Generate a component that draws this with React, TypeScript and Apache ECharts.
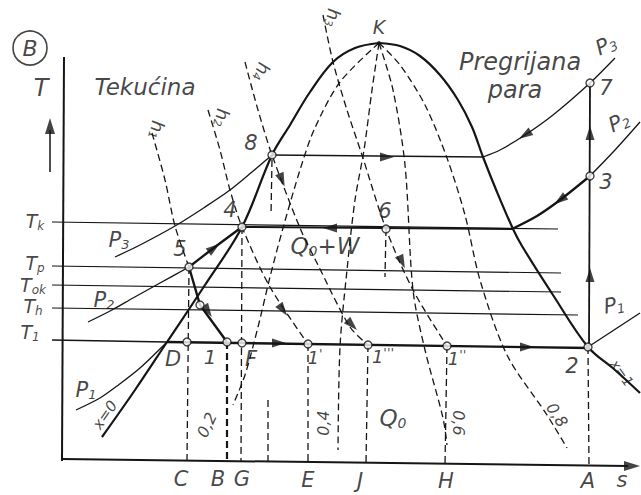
import React, { useEffect, useRef } from "react";
import * as echarts from "echarts";

type P = [number, number];

const axisT: P[] = [[64, 57], [62, 461]];
const axisS: P[] = [[62, 459], [628, 466]];
const tArrowLine: P[] = [[50, 172], [50, 130]];

const isoTk: P[] = [[52, 222], [558, 229]];
const isoTp: P[] = [[52, 266], [561, 273]];
const isoTok: P[] = [[52, 285], [561, 292]];
const isoTh: P[] = [[52, 308], [578, 315]];
const isoT1: P[] = [[52, 340], [167, 342]];
const evapT1: P[] = [[167, 342], [590, 348]];
const condTk: P[] = [[242, 227], [512, 229]];
const evap8: P[] = [[272, 155], [483, 157]];

const satLiquid: P[] = [[102, 437], [135, 390], [167, 342], [205, 285], [242, 227], [272, 155], [290, 125], [310, 92], [333, 62], [355, 48], [379, 43]];
const satVapour: P[] = [[379, 43], [400, 46], [420, 56], [440, 75], [458, 100], [472, 127], [483, 157], [497, 192], [513, 229], [522, 246], [553, 295], [588, 347], [615, 370], [640, 393]];

const p3Liquid: P[] = [[115, 257], [140, 245], [175, 226], [205, 207], [230, 190], [252, 172], [272, 155]];
const p3Super: P[] = [[483, 157], [500, 150], [525, 135], [553, 115], [590, 83], [615, 58]];
const p2Liquid: P[] = [[88, 322], [112, 310], [133, 298], [160, 283], [189, 267]];
const p2Rise: P[] = [[189, 267], [215, 247], [242, 227]];
const p2Super: P[] = [[512, 229], [537, 216], [560, 200], [590, 176]];
const p2SuperEnd: P[] = [[590, 176], [615, 150], [640, 122]];
const p1Liquid: P[] = [[76, 410], [100, 398], [117, 386], [140, 368], [167, 342]];
const p1Super: P[] = [[588, 347], [640, 313]];
const rise2to7: P[] = [[589, 347], [590, 83]];
const throttle51: P[] = [[189, 267], [200, 305], [227, 342]];

const h1: P[] = [[152, 133], [165, 180], [175, 226], [189, 267]];
const h2: P[] = [[208, 110], [220, 150], [230, 190], [242, 227], [270, 287], [308, 344]];
const h3: P[] = [[323, 15], [333, 62], [347, 110], [362, 155], [386, 229], [413, 290], [447, 346]];
const h4: P[] = [[245, 62], [258, 110], [272, 155], [300, 228], [317, 263], [350, 327], [368, 345]];
const x02: P[] = [[379, 43], [340, 82], [314, 130], [300, 170], [283, 228], [270, 277], [258, 327], [245, 375], [233, 405]];
const x04: P[] = [[379, 43], [372, 90], [364, 150], [355, 200], [347, 270], [340, 347], [338, 450]];
const x06: P[] = [[379, 43], [393, 90], [405, 165], [413, 290], [425, 350], [443, 418], [447, 445]];
const x08: P[] = [[379, 43], [400, 65], [425, 105], [447, 158], [465, 215], [480, 280], [507, 355], [547, 415], [567, 448]];

const drops: P[][] = [
  [[189, 267], [187, 460]],
  [[242, 227], [241, 461]],
  [[272, 160], [271, 215]],
  [[268, 400], [268, 462]],
  [[308, 344], [308, 462]],
  [[368, 345], [366, 464]],
  [[447, 346], [445, 465]],
  [[588, 347], [589, 466]],
  [[386, 229], [385, 277]],
];
const dropB: P[] = [[227, 342], [227, 461]];

const statePoints: P[] = [[272, 155], [242, 227], [189, 267], [386, 229], [590, 83], [590, 176], [588, 347], [187, 342], [227, 342], [242, 343], [308, 344], [368, 345], [447, 346], [200, 305]];

// [s, T, direction ds, direction dT]
const arrows: [number, number, number, number][] = [
  [214, 248, 27, -20],
  [208, 311, 19, 30],
  [330, 228, -1, 0],
  [387, 157, 1, 0],
  [525, 135, -35, 22],
  [560, 200, -30, 22],
  [590, 275, 0, -1],
  [590, 133, 0, -1],
  [279, 343, 1, 0],
  [527, 347, 1, 0],
  [282, 180, 10, 25],
  [352, 325, 18, 18],
  [283, 310, 25, 35],
  [402, 262, 15, 33],
];

// [text, s, T, rotation (deg), font size]
const labels: [string, number, number, number, number][] = [
  ["T", 41, 88, 0, 24],
  ["Tekućina", 145, 87, 0, 23],
  ["K", 379, 27, 0, 19],
  ["Pregrijana", 520, 62, 0, 24],
  ["para", 515, 90, 0, 24],
  ["P{s|3}", 606, 45, 25, 21],
  ["7", 606, 88, 0, 21],
  ["P{s|2}", 619, 122, 25, 21],
  ["3", 606, 182, 0, 21],
  ["P{s|1}", 614, 305, 10, 21],
  ["x=1", 622, 373, -55, 14],
  ["2", 572, 366, 0, 21],
  ["8", 251, 143, 0, 21],
  ["4", 230, 210, 0, 21],
  ["5", 180, 249, 0, 21],
  ["6", 385, 211, 0, 21],
  ["Q{s|0}+W", 325, 246, 0, 23],
  ["1", 210, 357, 0, 20],
  ["D", 173, 359, 0, 21],
  ["F", 251, 359, 0, 21],
  ["1{p|'}", 315, 357, 0, 18],
  ["1{p|'''}", 383, 356, 0, 18],
  ["1{p|''}", 457, 358, 0, 18],
  ["Q{s|0}", 393, 418, 0, 23],
  ["0,2", 207, 425, 65, 16],
  ["0,4", 323, 423, 90, 16],
  ["0,6", 458, 423, -90, 16],
  ["0,8", 557, 415, -58, 16],
  ["h{s|1}", 157, 130, -100, 18],
  ["h{s|2}", 222, 118, -100, 18],
  ["h{s|3}", 333, 18, -100, 18],
  ["h{s|4}", 262, 72, -110, 18],
  ["P{s|3}", 119, 240, 0, 21],
  ["P{s|2}", 104, 300, 0, 21],
  ["P{s|1}", 86, 390, 0, 21],
  ["x=0", 105, 415, 55, 15],
  ["T{s|k}", 35, 221, 0, 19],
  ["T{s|p}", 35, 263, 0, 19],
  ["T{s|ok}", 33, 285, 0, 19],
  ["T{s|h}", 33, 306, 0, 19],
  ["T{s|1}", 30, 332, 0, 19],
  ["C", 181, 479, 0, 21],
  ["B", 218, 479, 0, 21],
  ["G", 242, 479, 0, 21],
  ["E", 308, 480, 0, 21],
  ["J", 360, 481, 0, 21],
  ["H", 446, 481, 0, 21],
  ["A", 588, 481, 0, 21],
  ["s", 622, 480, 0, 21],
];

const badge: P = [30, 48];

const INK = "#151515";
const FONT = "'DejaVu Sans', 'Liberation Sans', sans-serif";

function line(data: P[], width: number, dashed = false, smooth: number | boolean = false): any {
  return {
    type: "line",
    data,
    showSymbol: false,
    symbol: "none",
    smooth,
    silent: true,
    z: dashed ? 2 : 3,
    lineStyle: { color: INK, width, type: dashed ? [7, 4] : "solid" },
  };
}

export default function App() {
  const ref = useRef<HTMLDivElement>(null);
  useEffect(() => {
    if (!ref.current) return;
    const chart = echarts.init(ref.current, undefined, { renderer: "svg" });
    const series: any[] = [
      line(axisT, 2),
      line(axisS, 2),
      line(tArrowLine, 1.5),
      line(isoTk, 1.2),
      line(isoTp, 1.2),
      line(isoTok, 1.2),
      line(isoTh, 1.2),
      line(isoT1, 1.3),
      line(evapT1, 2.4),
      line(condTk, 2.0),
      line(evap8, 1.3),
      line(satLiquid, 2.2, false, 0.35),
      line(satVapour, 2.2, false, 0.35),
      line(p3Liquid, 1.3, false, 0.3),
      line(p3Super, 1.3, false, 0.3),
      line(p2Liquid, 1.3, false, 0.3),
      line(p2Rise, 2.3, false, 0.3),
      line(p2Super, 2.3, false, 0.3),
      line(p2SuperEnd, 1.3, false, 0.3),
      line(p1Liquid, 1.3, false, 0.3),
      line(p1Super, 1.3),
      line(rise2to7, 1.8),
      line(throttle51, 2.4),
      line(h1, 1.3, true, 0.3),
      line(h2, 1.3, true, 0.3),
      line(h3, 1.3, true, 0.3),
      line(h4, 1.3, true, 0.3),
      line(x02, 1.3, true, 0.3),
      line(x04, 1.3, true, 0.3),
      line(x06, 1.3, true, 0.3),
      line(x08, 1.3, true, 0.3),
      ...drops.map((d) => line(d, 1.3, true)),
      line(dropB, 2.2, true),
      {
        type: "scatter",
        silent: true,
        z: 6,
        symbol: "triangle",
        symbolSize: [9, 14],
        itemStyle: { color: INK },
        data: arrows.map(([s, t, ds, dt]) => ({
          value: [s, t],
          symbolRotate: (-Math.atan2(ds, -dt) * 180) / Math.PI,
        })),
      },
      {
        type: "scatter",
        silent: true,
        z: 6,
        symbol: "triangle",
        symbolSize: [10, 16],
        itemStyle: { color: INK },
        data: [
          { value: [50, 126], symbolRotate: 0 },
          { value: [632, 466], symbolRotate: -90 },
        ],
      },
      {
        type: "scatter",
        silent: true,
        z: 7,
        symbol: "circle",
        symbolSize: 8,
        itemStyle: { color: "#fff", borderColor: INK, borderWidth: 1.4 },
        data: statePoints,
      },
      {
        type: "scatter",
        silent: true,
        z: 7,
        symbol: "circle",
        symbolSize: 4,
        itemStyle: { color: INK },
        data: [[379, 43]],
      },
      {
        type: "scatter",
        silent: true,
        z: 7,
        symbol: "circle",
        symbolSize: 34,
        itemStyle: { color: "rgba(0,0,0,0)", borderColor: INK, borderWidth: 1.6 },
        label: {
          show: true,
          position: "inside",
          formatter: "B",
          color: INK,
          fontSize: 22,
          fontStyle: "italic",
          fontFamily: FONT,
        },
        data: [badge],
      },
      {
        type: "scatter",
        silent: true,
        z: 8,
        symbolSize: 1,
        itemStyle: { color: "rgba(0,0,0,0)" },
        data: labels.map(([text, s, t, rot, size]) => ({
          value: [s, t],
          label: {
            show: true,
            position: "inside",
            formatter: text,
            rotate: rot,
            fontSize: size,
            rich: {
              s: { fontSize: Math.round(size * 0.62), fontStyle: "italic", fontFamily: FONT, color: INK, padding: [Math.round(size * 0.45), 0, 0, 0] },
              p: { fontSize: Math.round(size * 0.7), fontStyle: "italic", fontFamily: FONT, color: INK, padding: [0, 0, Math.round(size * 0.4), 0] },
            },
          },
        })),
        label: {
          show: true,
          color: INK,
          fontStyle: "italic",
          fontFamily: FONT,
        },
      },
    ];

    chart.setOption({
      animation: false,
      backgroundColor: "#fff",
      grid: { left: 0, right: 0, top: 0, bottom: 0 },
      xAxis: { type: "value", min: 0, max: 641, show: false },
      yAxis: { type: "value", min: 0, max: 495, inverse: true, show: false },
      series,
    });
    return () => chart.dispose();
  }, []);

  return (
    <div
      ref={ref}
      style={{ position: "fixed", left: 0, top: 0, width: 641, height: 495, background: "#fff" }}
    />
  );
}
